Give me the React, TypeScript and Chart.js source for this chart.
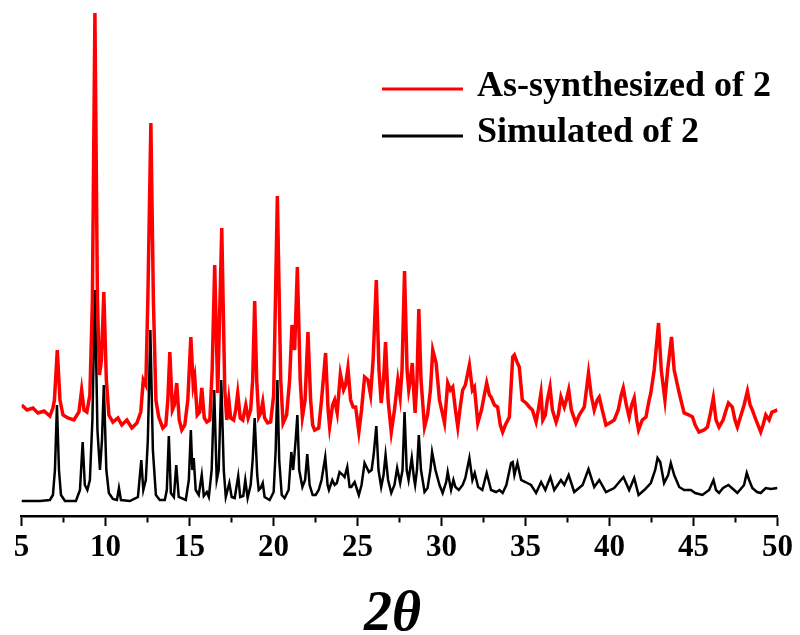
import React, { useEffect, useRef } from 'react';
import { Chart, registerables } from 'chart.js';

Chart.register(...registerables);

const FONT = "'Times New Roman', 'Liberation Serif', serif";

const seriesLabels = ['As-synthesized of 2', 'Simulated of 2'];
const seriesColors = ['#ff0000', '#000000'];
const axisTitle = '2θ ';
const xMin = 5;
const xMax = 50;
const xStep = 2.5;
const yMax = 508;

// As-synthesized (experimental) pattern, 2θ (deg)
const redX = [5.01,5.33,5.68,5.98,6.34,6.69,6.87,6.96,7.13,7.29,
7.47,7.76,8.12,8.42,8.58,8.72,8.89,9.07,9.22,9.37,
9.52,9.64,9.76,9.90,10.05,10.20,10.44,10.74,10.97,11.27,
11.57,11.87,12.10,12.25,12.40,12.52,12.70,12.85,13.00,13.17,
13.41,13.59,13.71,13.83,13.98,14.10,14.24,14.39,14.54,14.72,
14.90,15.08,15.22,15.31,15.46,15.61,15.73,15.88,16.03,16.21,
16.35,16.50,16.68,16.92,17.10,17.22,17.34,17.45,17.63,17.75,
17.87,18.02,18.17,18.35,18.49,18.64,18.76,18.88,19.00,19.12,
19.24,19.36,19.47,19.65,19.83,20.01,20.23,20.43,20.57,20.78,
20.96,21.10,21.26,21.42,21.59,21.72,21.88,22.05,22.21,22.33,
22.45,22.69,22.86,23.10,23.25,23.34,23.52,23.64,23.79,23.98,
24.17,24.29,24.43,24.59,24.74,24.89,25.08,25.24,25.42,25.62,
25.78,25.93,26.12,26.28,26.41,26.55,26.67,26.82,27.01,27.20,
27.40,27.54,27.65,27.80,27.95,28.05,28.15,28.26,28.36,28.43,
28.54,28.65,28.78,28.99,29.17,29.34,29.48,29.68,29.88,30.18,
30.37,30.53,30.67,30.83,30.97,31.13,31.26,31.42,31.66,31.84,
31.96,32.16,32.38,32.55,32.69,32.85,32.95,33.15,33.34,33.50,
33.64,33.80,34.04,34.24,34.34,34.52,34.63,34.81,35.03,35.23,
35.41,35.63,35.76,35.92,36.03,36.18,36.30,36.46,36.60,36.82,
36.95,37.11,37.31,37.43,37.57,37.73,38.00,38.20,38.50,38.75,
38.91,39.09,39.27,39.39,39.57,39.79,40.10,40.28,40.52,40.70,
40.82,41.00,41.17,41.32,41.47,41.62,41.73,41.95,42.17,42.36,
42.46,42.66,42.92,43.08,43.30,43.46,43.69,43.85,44.15,44.44,
44.74,44.94,45.10,45.33,45.63,45.83,45.99,46.18,46.34,46.52,
46.76,46.94,47.08,47.31,47.47,47.61,47.83,48.01,48.21,48.37,
48.50,48.72,49.00,49.14,49.30,49.50,49.67,50.00];

// As-synthesized intensity (a.u., offset above the simulated trace)
const redY = [111,106,108,103,105,100,108,116,166,116,
101,98,96,104,126,106,104,121,216,503,
216,141,156,224,136,101,94,98,91,96,
88,93,104,136,131,216,393,216,116,99,
88,91,116,164,106,111,133,96,86,91,
116,179,131,139,101,104,128,98,94,96,
146,251,123,288,126,96,116,98,96,106,
123,98,96,111,98,106,136,215,136,99,
103,114,98,93,94,121,320,136,93,101,
136,191,166,249,136,99,116,184,116,91,
86,88,116,163,106,89,111,116,103,142,
126,131,148,116,109,109,84,106,139,136,
121,156,236,146,113,136,174,116,84,106,
136,119,146,245,146,126,136,153,121,103,
136,207,136,89,101,126,166,153,116,93,
133,126,129,106,89,111,126,131,151,126,
129,93,106,121,133,121,119,111,109,91,
84,91,99,159,161,153,149,116,113,109,
106,94,106,123,96,101,116,129,106,94,
101,119,109,116,126,106,93,101,109,143,
121,106,116,119,106,91,94,96,106,121,
128,111,99,111,118,96,86,96,99,116,
123,146,193,146,116,146,179,146,123,103,
101,99,91,84,86,89,101,118,96,89,
96,106,113,109,96,89,101,111,125,111,
106,96,84,91,101,96,104,106];

// Simulated pattern, 2θ (deg)
const blackX = [5.00,6.10,6.69,6.87,6.99,7.11,7.23,7.35,7.59,8.24,
8.48,8.64,8.77,8.92,9.07,9.22,9.37,9.52,9.67,9.79,
9.90,10.05,10.20,10.44,10.68,10.80,10.92,11.45,11.93,12.13,
12.25,12.40,12.52,12.67,12.82,13.00,13.23,13.53,13.65,13.77,
13.89,14.07,14.21,14.36,14.78,14.96,15.08,15.17,15.25,15.37,
15.55,15.73,15.85,16.03,16.15,16.32,16.47,16.62,16.74,16.89,
17.04,17.16,17.37,17.51,17.69,17.90,18.02,18.20,18.32,18.46,
18.64,18.76,18.88,19.03,19.12,19.24,19.36,19.47,19.77,20.01,
20.13,20.23,20.34,20.49,20.66,20.90,21.06,21.17,21.32,21.42,
21.53,21.72,21.88,22.01,22.15,22.33,22.51,22.69,22.86,23.08,
23.22,23.30,23.50,23.64,23.77,23.93,24.13,24.23,24.39,24.53,
24.63,24.83,25.08,25.24,25.42,25.68,25.84,25.96,26.12,26.25,
26.41,26.55,26.67,26.82,27.01,27.20,27.36,27.54,27.68,27.80,
27.93,28.04,28.23,28.36,28.43,28.54,28.65,28.78,28.99,29.17,
29.34,29.44,29.64,29.88,30.07,30.28,30.37,30.57,30.71,30.83,
31.03,31.26,31.42,31.66,31.84,31.98,32.18,32.43,32.69,32.95,
33.25,33.45,33.64,33.86,34.14,34.24,34.34,34.52,34.74,34.99,
35.33,35.63,35.93,36.18,36.48,36.71,37.11,37.31,37.57,37.90,
38.40,38.75,39.09,39.39,39.79,40.28,40.83,41.17,41.47,41.73,
42.07,42.46,42.72,42.86,43.02,43.25,43.49,43.65,43.85,44.15,
44.44,44.84,45.10,45.53,45.93,46.19,46.34,46.52,46.76,47.08,
47.42,47.61,48.01,48.17,48.31,48.50,48.78,49.00,49.30,49.61,
50.00];

// Simulated intensity (a.u.)
const blackY = [15,15,16,21,46,111,46,21,15,15,
26,74,31,26,36,96,226,86,46,76,
131,46,23,17,16,28,16,15,19,56,
26,36,76,186,66,21,16,16,26,80,
23,19,51,19,16,36,86,46,58,26,
21,41,20,24,19,46,126,36,46,136,
46,19,33,19,18,40,19,20,36,18,
31,56,98,41,26,28,33,19,16,24,
66,136,56,21,18,26,64,46,76,101,
46,29,36,62,31,21,21,26,36,59,
31,26,36,31,33,44,41,39,49,29,
29,34,21,31,53,44,46,61,90,46,
29,41,61,36,23,31,48,33,46,104,
46,36,58,38,31,46,81,46,24,28,
46,64,46,31,23,34,44,26,36,29,
26,31,38,58,36,43,29,26,43,26,
24,26,23,31,53,54,41,53,36,34,
31,23,34,26,39,26,36,31,41,24,
31,47,29,36,24,28,39,26,38,21,
26,33,46,58,54,33,41,53,41,29,
26,26,23,21,26,36,26,23,28,31,
26,23,31,43,36,28,24,23,28,27,
28];

const legendPlugin = {
  id: 'innerLegend',
  afterDraw(chart: any) {
    const ctx = chart.ctx;
    const rows = [
      { lineY: 89, textY: 96 },
      { lineY: 136, textY: 142 },
    ];
    chart.data.datasets.forEach((ds: any, i: number) => {
      const r = rows[i];
      if (!r) return;
      ctx.save();
      ctx.strokeStyle = ds.borderColor;
      ctx.lineWidth = 3;
      ctx.beginPath();
      ctx.moveTo(382, r.lineY);
      ctx.lineTo(463, r.lineY);
      ctx.stroke();
      ctx.fillStyle = '#000';
      ctx.font = `bold 36px ${FONT}`;
      ctx.textAlign = 'left';
      ctx.textBaseline = 'alphabetic';
      ctx.fillText(ds.label, 477, r.textY);
      ctx.restore();
    });
  },
};

function App() {
  const ref = useRef<HTMLCanvasElement | null>(null);

  useEffect(() => {
    if (!ref.current) return;
    const toPts = (xs: number[], ys: number[]) => xs.map((x, i) => ({ x, y: ys[i] }));
    const chart = new Chart(ref.current, {
      type: 'line',
      data: {
        datasets: [
          {
            label: seriesLabels[0],
            data: toPts(redX, redY),
            borderColor: seriesColors[0],
            borderWidth: 3.5,
            pointRadius: 0,
            tension: 0,
            fill: false,
          },
          {
            label: seriesLabels[1],
            data: toPts(blackX, blackY),
            borderColor: seriesColors[1],
            borderWidth: 2.5,
            pointRadius: 0,
            tension: 0,
            fill: false,
          },
        ],
      },
      options: {
        animation: false,
        responsive: false,
        maintainAspectRatio: false,
        layout: { padding: { left: 21.5, right: 22.5, top: 8, bottom: 0 } },
        plugins: {
          legend: { display: false },
          tooltip: { enabled: false },
        },
        scales: {
          x: {
            type: 'linear',
            min: xMin,
            max: xMax,
            afterFit: (scale: any) => {
              scale.height = 119;
            },
            border: { display: true, color: '#000', width: 2.5 },
            grid: {
              drawOnChartArea: false,
              drawTicks: true,
              tickLength: 10,
              tickWidth: 2,
              tickColor: '#000',
              tickBorderDash: (ctx: any) =>
                ctx.tick && Math.abs(ctx.tick.value % 5) > 1e-6 ? [5, 30] : [],
            },
            ticks: {
              stepSize: xStep,
              autoSkip: false,
              maxRotation: 0,
              minRotation: 0,
              padding: 3,
              color: '#000',
              font: { family: FONT, size: 31, weight: 'bold', lineHeight: 1.2 },
              callback: (v: any) => (Math.abs(Number(v) % 5) < 1e-6 ? String(v) : ''),
            },
            title: {
              display: true,
              text: axisTitle,
              color: '#000',
              font: { family: FONT, size: 56, weight: 'bold', style: 'italic', lineHeight: 0.6 },
              padding: { top: 0, bottom: 3 },
            },
          },
          y: {
            type: 'linear',
            display: false,
            min: 0,
            max: yMax,
          },
        },
      },
      plugins: [legendPlugin],
    });
    return () => chart.destroy();
  }, []);

  return (
    <div style={{ position: 'fixed', left: 0, top: 0, width: 800, height: 635, background: '#fff' }}>
      <canvas ref={ref} width={800} height={635} style={{ display: 'block' }} />
    </div>
  );
}

export default App;
